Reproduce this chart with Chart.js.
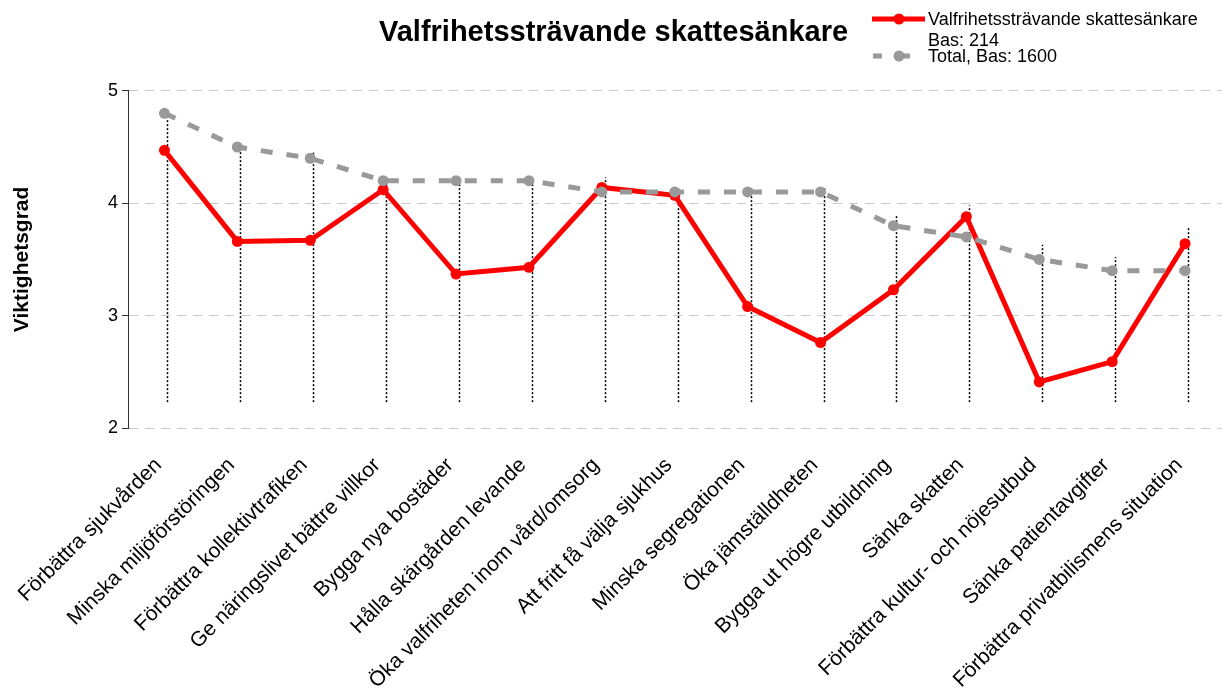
<!DOCTYPE html>
<html>
<head>
<meta charset="utf-8">
<script src="https://cdn.jsdelivr.net/npm/chart.js@4"></script>
<style>
    html, body { margin: 0; padding: 0; background: #fff; }
    #wrap { width: 1227px; height: 688px; }
</style>
</head>
<body>
<div id="wrap"><canvas id="chart"></canvas></div>
<script>
// Categories along the x axis
const categories = [
    'Förbättra sjukvården',
    'Minska miljöförstöringen',
    'Förbättra kollektivtrafiken',
    'Ge näringslivet bättre villkor',
    'Bygga nya bostäder',
    'Hålla skärgården levande',
    'Öka valfriheten inom vård/omsorg',
    'Att fritt få välja sjukhus',
    'Minska segregationen',
    'Öka jämställdheten',
    'Bygga ut högre utbildning',
    'Sänka skatten',
    'Förbättra kultur- och nöjesutbud',
    'Sänka patientavgifter',
    'Förbättra privatbilismens situation'
];

// Series values
const groupValues = [4.47, 3.66, 3.67, 4.12, 3.37, 3.43, 4.14, 4.07, 3.08, 2.76, 3.23, 3.88, 2.41, 2.59, 3.64];
const totalValues = [4.8, 4.5, 4.4, 4.2, 4.2, 4.2, 4.1, 4.1, 4.1, 4.1, 3.8, 3.7, 3.5, 3.4, 3.4];

// Dotted drop lines (low / high per category)
const dropLows = [2.23, 2.23, 2.23, 2.23, 2.23, 2.23, 2.23, 2.23, 2.23, 2.23, 2.23, 2.23, 2.23, 2.23, 2.23];
const dropHighs = [4.80, 4.54, 4.45, 4.23, 4.20, 4.21, 4.23, 4.13, 4.14, 4.15, 3.89, 3.98, 3.63, 3.52, 3.78];

// Y axis ticks
const yTicks = [2, 3, 4, 5];

// Legend texts
const groupLabel = ['Valfrihetssträvande skattesänkare', 'Bas: 214'];
const totalLabel = ['Total, Bas: 1600'];

const FONT = '"Liberation Sans", Arial, sans-serif';

// Draw the dotted vertical lines behind the series
const dropLinePlugin = {
    id: 'dropLines',
    beforeDatasetsDraw(chart) {
        const { ctx, scales: { x, y } } = chart;
        ctx.save();
        ctx.strokeStyle = '#000';
        ctx.lineWidth = 1.5;
        ctx.setLineDash([2, 2]);
        categories.forEach((c, i) => {
            const px = Math.round(x.getPixelForValue(i)) + 3.5;
            ctx.beginPath();
            ctx.moveTo(px, y.getPixelForValue(dropLows[i]));
            ctx.lineTo(px, y.getPixelForValue(dropHighs[i]));
            ctx.stroke();
        });
        ctx.restore();
    }
};

// Legend in the top right corner
const legendPlugin = {
    id: 'customLegend',
    afterDraw(chart) {
        const ctx = chart.ctx;
        ctx.save();
        ctx.font = '18px ' + FONT;
        ctx.textBaseline = 'middle';

        // red series
        ctx.strokeStyle = '#ff0000';
        ctx.lineWidth = 5;
        ctx.beginPath();
        ctx.moveTo(872, 19);
        ctx.lineTo(925, 19);
        ctx.stroke();
        ctx.fillStyle = '#ff0000';
        ctx.beginPath();
        ctx.arc(899, 19, 5.5, 0, Math.PI * 2);
        ctx.fill();

        // gray series
        ctx.strokeStyle = '#999';
        ctx.beginPath();
        ctx.moveTo(873, 56);
        ctx.lineTo(882, 56);
        ctx.moveTo(903, 56);
        ctx.lineTo(910, 56);
        ctx.stroke();
        ctx.fillStyle = '#999';
        ctx.beginPath();
        ctx.arc(899, 56, 5.5, 0, Math.PI * 2);
        ctx.fill();

        ctx.fillStyle = '#000';
        ctx.fillText(groupLabel[0], 928, 20);
        ctx.fillText(groupLabel[1], 928, 41);
        ctx.fillText(totalLabel[0], 928, 57);
        ctx.restore();
    }
};

const ctx = document.getElementById('chart').getContext('2d');
new Chart(ctx, {
    type: 'line',
    data: {
        labels: categories,
        datasets: [{
            label: groupLabel.join(' '),
            data: groupValues,
            borderColor: '#ff0000',
            backgroundColor: '#ff0000',
            borderWidth: 5,
            pointRadius: 5.5,
            pointBorderWidth: 0,
            pointBackgroundColor: '#ff0000',
            tension: 0,
            order: 2
        }, {
            label: totalLabel[0],
            data: totalValues,
            borderColor: '#999',
            backgroundColor: '#999',
            borderWidth: 5,
            borderDash: [12, 14],
            pointRadius: 5.5,
            pointBorderWidth: 0,
            pointBackgroundColor: '#999',
            tension: 0,
            order: 1
        }]
    },
    options: {
        responsive: true,
        maintainAspectRatio: false,
        animation: false,
        layout: { padding: 0 },
        plugins: {
            legend: { display: false },
            tooltip: { enabled: false },
            title: {
                display: true,
                text: 'Valfrihetssträvande skattesänkare',
                color: '#000',
                font: { family: FONT, size: 29, weight: 'bold' },
                padding: { top: 16, bottom: 40 }
            }
        },
        scales: {
            x: {
                offset: true,
                grid: { display: false },
                border: { display: false },
                ticks: {
                    autoSkip: false,
                    maxRotation: 45,
                    minRotation: 45,
                    padding: 17,
                    labelOffset: -6,
                    color: '#000',
                    font: { family: FONT, size: 21 }
                },
                afterFit: scale => { scale.height = 260; }
            },
            y: {
                min: 2,
                max: 5,
                afterBuildTicks: scale => { scale.ticks = yTicks.map(v => ({ value: v })); },
                grid: {
                    color: '#cccccc',
                    lineWidth: 1,
                    tickColor: '#333',
                    tickLength: 6,
                    tickBorderDash: []
                },
                border: { display: true, color: '#333', width: 1, dash: [9, 7] },
                ticks: {
                    padding: 4,
                    color: '#000',
                    font: { family: FONT, size: 18 }
                },
                title: {
                    display: true,
                    text: 'Viktighetsgrad',
                    color: '#000',
                    font: { family: FONT, size: 21, weight: 'bold' },
                    padding: { top: 10, bottom: 0 }
                },
                afterFit: scale => { scale.width = 128; }
            }
        }
    },
    plugins: [dropLinePlugin, legendPlugin]
});
</script>
</body>
</html>
